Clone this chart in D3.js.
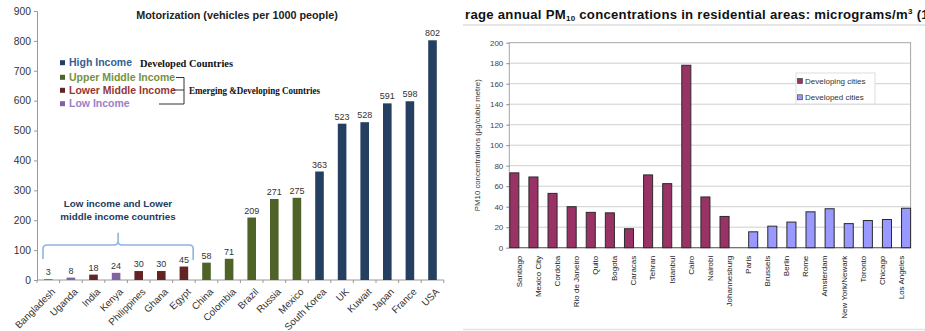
<!DOCTYPE html>
<html><head><meta charset="utf-8">
<script src="https://cdn.jsdelivr.net/npm/d3@7"></script>
<style>
html,body{margin:0;padding:0;background:#fff;}
svg{display:block;font-family:"Liberation Sans",Arial,sans-serif;}
</style></head>
<body><svg id="c" width="925" height="331"></svg>
<script>
// ---------- Left chart data ----------
const countries = ["Bangladesh","Uganda","India","Kenya","Philippines","Ghana","Egypt","China","Colombia","Brazil","Russia","Mexico","South Korea","UK","Kuwait","Japan","France","USA"];
const vehicles = [3,8,18,24,30,30,45,58,71,209,271,275,363,523,528,591,598,802];
const incomeGroup = ["Low","Low","Lower","Low","Lower","Lower","Lower","Upper","Upper","Upper","Upper","Upper","High","High","High","High","High","High"];
const incomeLegend = ["High Income","Upper Middle Income","Lower Middle Income","Low Income"];
const incomeKeys = ["High","Upper","Lower","Low"];
const leftTicks = [0,100,200,300,400,500,600,700,800,900];

// ---------- Right chart data ----------
const cities = ["Santiago","Mexico City","Cordoba","Rio de Janeiro","Quito","Bogota","Caracas","Tehran","Istanbul","Cairo","Nairobi","Johannesburg","Paris","Brussels","Berlin","Rome","Amsterdam","New York/Newark","Toronto","Chicago","Los Angeles"];
const pm10 = [73,69,53,40,34.5,34,18.5,71,62.5,178,49.5,30.5,15.5,21,25,35,38,23.5,26.5,27.5,38.5];
const cityGroup = ["Developing","Developing","Developing","Developing","Developing","Developing","Developing","Developing","Developing","Developing","Developing","Developing","Developed","Developed","Developed","Developed","Developed","Developed","Developed","Developed","Developed"];
const cityGroups = ["Developing","Developed"];
const cityLegend = ["Developing cities","Developed cities"];
const rightTicks = [0,20,40,60,80,100,120,140,160,180,200];

const svg = d3.select("#c");
svg.append("rect").attr("width",925).attr("height",331).attr("fill","#fff");

// ================= LEFT CHART =================
const barColor = d3.scaleOrdinal().domain(incomeKeys).range(["#243f60","#4f6228","#632523","#8064a2"]);
const textColor = d3.scaleOrdinal().domain(incomeKeys).range(["#376092","#76923c","#953735","#9a7fc6"]);

const yL = d3.scaleLinear().domain([0,900]).range([280,11]);
const xL = d3.scaleBand().domain(countries).range([37,443.8]).paddingInner(0.62).paddingOuter(0.31);

const gL = svg.append("g");
const yAxL = gL.append("g").attr("transform","translate(37,0)")
  .call(d3.axisLeft(yL).tickValues(leftTicks).tickSize(3).tickPadding(3));
yAxL.selectAll("path,line").attr("stroke","#999");
yAxL.selectAll("text").attr("font-size",10.3).attr("fill","#333").attr("font-family","Liberation Sans, Arial, sans-serif");

gL.append("line").attr("x1",37).attr("x2",443.8).attr("y1",yL(0)).attr("y2",yL(0)).attr("stroke","#999");
// category boundary ticks
gL.selectAll("line.xt").data(d3.range(countries.length+1)).join("line").attr("class","xt")
  .attr("x1",i=>37+i*xL.step()).attr("x2",i=>37+i*xL.step())
  .attr("y1",yL(0)).attr("y2",yL(0)+3).attr("stroke","#999");

gL.selectAll("rect.bar").data(countries).join("rect").attr("class","bar")
  .attr("x",d=>xL(d)).attr("width",xL.bandwidth())
  .attr("y",(d,i)=>yL(vehicles[i])).attr("height",(d,i)=>yL(0)-yL(vehicles[i]))
  .attr("fill",(d,i)=>barColor(incomeGroup[i]));

gL.selectAll("text.val").data(countries).join("text").attr("class","val")
  .attr("x",d=>xL(d)+xL.bandwidth()/2).attr("y",(d,i)=>yL(vehicles[i])-4)
  .attr("text-anchor","middle").attr("font-size",9).attr("fill","#333")
  .text((d,i)=>vehicles[i]);

gL.selectAll("text.xl").data(countries).join("text").attr("class","xl")
  .attr("transform",d=>`translate(${xL(d)+xL.bandwidth()/2+5},${yL(0)+10}) rotate(-45)`)
  .attr("text-anchor","end").attr("dy","0.35em").attr("font-size",9.8).attr("fill","#333")
  .text(d=>d);

gL.append("text").attr("x",237).attr("y",19).attr("text-anchor","middle")
  .attr("font-size",10.8).attr("font-weight","bold").attr("fill","#222")
  .text("Motorization  (vehicles per 1000 people)");

// legend
const legY = [62.7,77.3,90.3,103.7];
const lg = gL.append("g");
incomeKeys.forEach((k,i)=>{
  lg.append("rect").attr("x",60).attr("y",legY[i]-2.5).attr("width",5).attr("height",5).attr("fill",barColor(k));
  lg.append("text").attr("x",69).attr("y",legY[i]).attr("dy","0.35em").attr("font-size",10.5)
    .attr("font-weight","bold").attr("fill",textColor(k)).text(incomeLegend[i]);
});
lg.append("text").attr("x",140).attr("y",63).attr("dy","0.35em")
  .attr("font-family","Liberation Serif, Times New Roman, serif").attr("font-weight","bold")
  .attr("font-size",10.5).attr("fill","#111").attr("textLength",93).attr("lengthAdjust","spacingAndGlyphs")
  .text("Developed Countries");
lg.append("text").attr("x",189).attr("y",90).attr("dy","0.35em")
  .attr("font-family","Liberation Serif, Times New Roman, serif").attr("font-weight","bold")
  .attr("font-size",10.5).attr("fill","#111").attr("textLength",131).attr("lengthAdjust","spacingAndGlyphs")
  .text("Emerging &Developing Countries");
lg.append("path").attr("d","M176,77.5H184V104H159M173,90H184")
  .attr("fill","none").attr("stroke","#333").attr("stroke-width",1);

// annotation
const ann = gL.append("g");
ann.append("text").attr("x",118).attr("y",207).attr("text-anchor","middle").attr("font-size",9.8)
  .attr("font-weight","bold").attr("fill","#1f3b5e").text("Low income and Lower");
ann.append("text").attr("x",118).attr("y",220).attr("text-anchor","middle").attr("font-size",9.8)
  .attr("font-weight","bold").attr("fill","#1f3b5e").text("middle income countries");
const bl = xL("Bangladesh") - xL.step()*xL.paddingOuter() + 6;
const br = xL("China") - xL.step()*xL.paddingInner()/2 - 2;
const bm = (bl+br)/2;
const by = yL(117), bp = yL(158), be = yL(80);
ann.append("path")
  .attr("d",`M${bl},${be+3} L${bl},${by+4} Q${bl},${by} ${bl+4},${by} L${bm-4},${by} Q${bm},${by} ${bm},${by-4} L${bm},${bp} L${bm},${by-4} Q${bm},${by} ${bm+4},${by} L${br-4},${by} Q${br},${by} ${br},${by+4} L${br},${be+4}`)
  .attr("fill","none").attr("stroke","#8db4e2").attr("stroke-width",1.6);

// ================= RIGHT CHART =================
const gR = svg.append("g");
const pLeft = 509.3, pRight = 910.6, pTop = 42.7, pBottom = 247.7;
const yR = d3.scaleLinear().domain([0,200]).range([pBottom,pTop]);
const xR = d3.scaleBand().domain(cities).range([pLeft,pRight]).padding(0);
const xSub = d3.scaleBand().domain(cityGroups).range([0,xR.bandwidth()]).padding(0);
const cityColor = d3.scaleOrdinal().domain(cityGroups).range(["#993366","#9999ff"]);

// title
const t = gR.append("text").attr("x",465).attr("y",18.5).attr("font-size",13.15).attr("letter-spacing",0.27).attr("font-weight","bold").attr("fill","#111");
t.append("tspan").text("rage annual PM");
t.append("tspan").attr("font-size",8).attr("dy",2.5).text("10");
t.append("tspan").attr("dy",-2.5).text(" concentrations in residential areas: micrograms/m");
t.append("tspan").attr("font-size",8).attr("dy",-4.5).text("3");
t.append("tspan").attr("dy",4.5).text(" (19");

gR.append("line").attr("x1",463).attr("x2",925).attr("y1",25).attr("y2",25).attr("stroke","#ddd").attr("stroke-width",1.5);
gR.append("line").attr("x1",463).attr("x2",925).attr("y1",329.5).attr("y2",329.5).attr("stroke","#e2e2e2").attr("stroke-width",1.5);

// grid
gR.selectAll("line.grid").data(rightTicks.slice(1,-1)).join("line").attr("class","grid")
  .attr("x1",pLeft).attr("x2",pRight).attr("y1",d=>yR(d)).attr("y2",d=>yR(d))
  .attr("stroke","#cfcfcf").attr("stroke-width",1);
gR.append("rect").attr("x",pLeft).attr("y",pTop).attr("width",pRight-pLeft).attr("height",pBottom-pTop)
  .attr("fill","none").attr("stroke","#a6a6a6");

const yAxR = gR.append("g").attr("transform",`translate(${pLeft},0)`)
  .call(d3.axisLeft(yR).tickValues(rightTicks).tickSize(3).tickPadding(3));
yAxR.select("path").remove();
yAxR.selectAll("line").attr("stroke","#888");
yAxR.selectAll("text").attr("font-size",8).attr("fill","#444").attr("font-family","Liberation Sans, Arial, sans-serif");

gR.append("line").attr("x1",pLeft).attr("x2",pRight).attr("y1",pBottom).attr("y2",pBottom).attr("stroke","#666");

gR.selectAll("rect.pm").data(cities).join("rect").attr("class","pm")
  .attr("x",(d,i)=>xR(d)+xSub(cityGroup[i])+0.5).attr("width",xSub.bandwidth()-0.5)
  .attr("y",(d,i)=>yR(pm10[i])).attr("height",(d,i)=>yR(0)-yR(pm10[i]))
  .attr("fill",(d,i)=>cityColor(cityGroup[i])).attr("stroke","#2a2a2a").attr("stroke-width",1);

gR.selectAll("text.cx").data(cities).join("text").attr("class","cx")
  .attr("transform",d=>`translate(${xR(d)+xR.bandwidth()/2},${pBottom+8}) rotate(-90)`)
  .attr("text-anchor","end").attr("dy","0.35em").attr("font-size",8).attr("fill","#222")
  .text(d=>d);

gR.append("text").attr("transform",`translate(480,${(pTop+pBottom)/2}) rotate(-90)`)
  .attr("text-anchor","middle").attr("font-size",7.8).attr("fill","#333")
  .text("PM10 concentrations (µg/cubic metre)");

// legend
const lgR = gR.append("g");
lgR.append("rect").attr("x",796).attr("y",73).attr("width",79).attr("height",31).attr("fill","#fff").attr("stroke","#ddd");
cityGroups.forEach((k,i)=>{
  const yy = 81 + i*16.3;
  lgR.append("rect").attr("x",797.5).attr("y",yy-2.5).attr("width",5).attr("height",5).attr("fill",cityColor(k)).attr("stroke","#333").attr("stroke-width",0.6);
  lgR.append("text").attr("x",805).attr("y",yy).attr("dy","0.35em").attr("font-size",8).attr("fill","#333").text(cityLegend[i]);
});
</script></body></html>
